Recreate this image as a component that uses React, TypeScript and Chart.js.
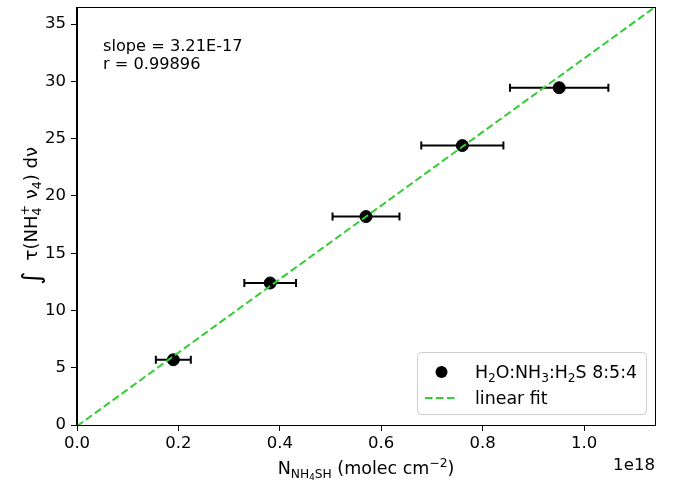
import React, { useEffect, useRef } from "react";
import { Chart, registerables } from "chart.js";

Chart.register(...registerables);

// ---- data (x in units of 1e18 molec cm^-2) ----
const xValues = [0.19, 0.381, 0.57, 0.76, 0.951];
const yValues = [5.7, 12.4, 18.2, 24.4, 29.45];
const xErrors = [0.0345, 0.051, 0.066, 0.081, 0.097];
const fitSlope = 32.1; // 3.21E-17 per 1e18
const fitIntercept = -0.1;
const fitX = [0, 1.14];
const xTicks = [0, 0.2, 0.4, 0.6, 0.8, 1.0];
const xTickLabels = ["0.0", "0.2", "0.4", "0.6", "0.8", "1.0"];
const yTicks = [0, 5, 10, 15, 20, 25, 30, 35];
const yTickLabels = ["0", "5", "10", "15", "20", "25", "30", "35"];
const xMin = 0;
const xMax = 1.14;
const yMin = 0;
const yMax = 36.5;
const seriesLabel = "H2O:NH3:H2S 8:5:4";
const fitLabel = "linear fit";
const annotationLines = ["slope = 3.21E-17", "r = 0.99896"];
const offsetText = "1e18";

const FONT = '"DejaVu Sans"';
const GREEN = "#32cd32";

type Part = { t: string; k?: "sub" | "sup" | "subsub" | "big"; keep?: boolean };

function partSize(p: Part, size: number) {
  if (p.k === "subsub") return size * 0.5;
  if (p.k === "big") return size * 1.4;
  if (p.k) return size * 0.7;
  return size;
}

function richWidth(ctx: CanvasRenderingContext2D, parts: Part[], size: number) {
  let w = 0;
  for (const p of parts) {
    ctx.font = `${partSize(p, size)}px ${FONT}`;
    if (!p.keep) w += ctx.measureText(p.t).width;
  }
  return w;
}

function drawRich(ctx: CanvasRenderingContext2D, parts: Part[], x: number, y: number, size: number) {
  let cx = x;
  for (const p of parts) {
    ctx.font = `${partSize(p, size)}px ${FONT}`;
    let dy = 0;
    if (p.k === "sub") dy = size * 0.22;
    if (p.k === "subsub") dy = size * 0.34;
    if (p.k === "sup") dy = -size * 0.42;
    if (p.k === "big") dy = size * 0.15;
    ctx.fillText(p.t, cx, y + dy);
    if (!p.keep) cx += ctx.measureText(p.t).width;
  }
}

const yTitleParts: Part[] = [
  { t: "∫", k: "big" },
  { t: "  τ(NH" },
  { t: "4", k: "sub", keep: true },
  { t: "+", k: "sup" },
  { t: " ν" },
  { t: "4", k: "sub" },
  { t: ") dν" },
];
const xTitleParts: Part[] = [
  { t: "N" },
  { t: "NH", k: "sub" },
  { t: "4", k: "subsub" },
  { t: "SH", k: "sub" },
  { t: " (molec cm" },
  { t: "−2", k: "sup" },
  { t: ")" },
];
const legendParts: Part[] = [
  { t: "H" },
  { t: "2", k: "sub" },
  { t: "O:NH" },
  { t: "3", k: "sub" },
  { t: ":H" },
  { t: "2", k: "sub" },
  { t: "S 8:5:4" },
];

const decorPlugin = {
  id: "decor",
  beforeDatasetsDraw(chart: any) {
    const ctx = chart.ctx as CanvasRenderingContext2D;
    const xs = chart.scales.x;
    const ys = chart.scales.y;
    ctx.save();
    ctx.strokeStyle = "#000";
    ctx.lineWidth = 2;
    for (let i = 0; i < xValues.length; i++) {
      const y = ys.getPixelForValue(yValues[i]);
      const x1 = xs.getPixelForValue(xValues[i] - xErrors[i]);
      const x2 = xs.getPixelForValue(xValues[i] + xErrors[i]);
      ctx.beginPath();
      ctx.moveTo(x1, y);
      ctx.lineTo(x2, y);
      ctx.moveTo(x1, y - 4);
      ctx.lineTo(x1, y + 4);
      ctx.moveTo(x2, y - 4);
      ctx.lineTo(x2, y + 4);
      ctx.stroke();
    }
    ctx.restore();
  },
  afterDraw(chart: any) {
    const ctx = chart.ctx as CanvasRenderingContext2D;
    const a = chart.chartArea;
    ctx.save();
    // frame
    ctx.strokeStyle = "#000";
    ctx.lineWidth = 1;
    ctx.strokeRect(Math.round(a.left) - 0.5, Math.round(a.top) + 0.5, Math.round(a.right - a.left) + 1, Math.round(a.bottom - a.top));

    ctx.fillStyle = "#000";
    ctx.textBaseline = "alphabetic";
    // annotation
    ctx.font = `16.2px ${FONT}`;
    ctx.textAlign = "left";
    ctx.fillText(annotationLines[0], 103, 51);
    ctx.fillText(annotationLines[1], 103, 69);

    // offset text
    ctx.font = `16.6px ${FONT}`;
    ctx.textAlign = "right";
    ctx.fillText(offsetText, 655, 470);

    // x title
    ctx.textAlign = "left";
    const xw = richWidth(ctx, xTitleParts, 17.5);
    drawRich(ctx, xTitleParts, (a.left + a.right) / 2 - xw / 2, 474, 17.5);

    // y title
    ctx.save();
    ctx.translate(37, (a.top + a.bottom) / 2);
    ctx.rotate(-Math.PI / 2);
    const yw = richWidth(ctx, yTitleParts, 18);
    drawRich(ctx, yTitleParts, -yw / 2, 0, 18);
    ctx.restore();

    // legend
    const lx = 417, ly = 352, lw = 229, lh = 62;
    ctx.beginPath();
    (ctx as any).roundRect(lx + 0.5, ly + 0.5, lw, lh, 4);
    ctx.fillStyle = "rgba(255,255,255,0.8)";
    ctx.fill();
    ctx.strokeStyle = "#cccccc";
    ctx.lineWidth = 1;
    ctx.stroke();

    ctx.fillStyle = "#000";
    ctx.beginPath();
    ctx.arc(441.5, 372, 6, 0, Math.PI * 2);
    ctx.fill();
    drawRich(ctx, legendParts, 475, 378, 17.4);

    ctx.strokeStyle = GREEN;
    ctx.lineWidth = 2;
    ctx.setLineDash([7.5, 3.5]);
    ctx.beginPath();
    ctx.moveTo(425, 398);
    ctx.lineTo(458, 398);
    ctx.stroke();
    ctx.setLineDash([]);
    ctx.font = `17.4px ${FONT}`;
    ctx.fillStyle = "#000";
    ctx.fillText(fitLabel, 475, 404);
    ctx.restore();
  },
};

export default function App() {
  const ref = useRef<HTMLCanvasElement | null>(null);
  useEffect(() => {
    if (!ref.current) return;
    const chart = new Chart(ref.current, {
      type: "scatter",
      data: {
        datasets: [
          {
            type: "line",
            label: fitLabel,
            data: fitX.map((x) => ({ x, y: fitSlope * x + fitIntercept })),
            borderColor: GREEN,
            borderWidth: 2,
            borderDash: [7.5, 3.5],
            pointRadius: 0,
            fill: false,
            order: 0,
          } as any,
          {
            label: seriesLabel,
            data: xValues.map((x, i) => ({ x, y: yValues[i] })),
            backgroundColor: "#000",
            borderColor: "#000",
            pointRadius: 6,
            pointHoverRadius: 6,
            order: 1,
          },
        ],
      },
      options: {
        responsive: false,
        animation: false,
        events: [],
        layout: { padding: { top: 6, right: 18, left: 0, bottom: 0 } },
        plugins: { legend: { display: false }, tooltip: { enabled: false } },
        scales: {
          x: {
            type: "linear",
            min: xMin,
            max: xMax,
            afterFit: (s: any) => {
              s.height = 58;
              s.paddingLeft = 0;
              s.paddingRight = 0;
            },
            afterBuildTicks: (s: any) => {
              s.ticks = xTicks.map((v) => ({ value: v }));
            },
            border: { display: true, color: "#000", width: 1 },
            grid: { display: true, drawOnChartArea: false, drawTicks: true, tickLength: 6, color: "#000", tickColor: "#000" },
            ticks: {
              color: "#000",
              font: { family: "DejaVu Sans", size: 16.5 },
              padding: 3,
              maxRotation: 0,
              autoSkip: false,
              callback: (v: any) => {
                const i = xTicks.findIndex((t) => Math.abs(t - v) < 1e-9);
                return i >= 0 ? xTickLabels[i] : "";
              },
            },
          },
          y: {
            type: "linear",
            min: yMin,
            max: yMax,
            afterFit: (s: any) => {
              s.width = 77;
              s.paddingTop = 0;
              s.paddingBottom = 0;
            },
            afterBuildTicks: (s: any) => {
              s.ticks = yTicks.map((v) => ({ value: v }));
            },
            border: { display: true, color: "#000", width: 1 },
            grid: { display: true, drawOnChartArea: false, drawTicks: true, tickLength: 6, color: "#000", tickColor: "#000" },
            ticks: {
              color: "#000",
              font: { family: "DejaVu Sans", size: 16.5 },
              padding: 5,
              autoSkip: false,
              callback: (v: any) => {
                const i = yTicks.findIndex((t) => Math.abs(t - v) < 1e-9);
                return i >= 0 ? yTickLabels[i] : "";
              },
            },
          },
        },
      },
      plugins: [decorPlugin],
    });
    return () => chart.destroy();
  }, []);
  return (
    <div style={{ position: "fixed", left: 0, top: 0, width: 673, height: 483, background: "#fff" }}>
      <canvas ref={ref} width={673} height={483} style={{ width: 673, height: 483, display: "block" }} />
    </div>
  );
}
